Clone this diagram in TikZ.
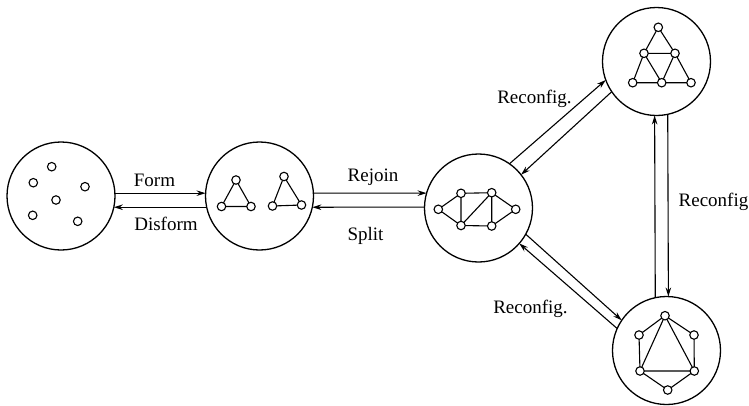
\documentclass[tikz,border=0pt]{standalone}
\usepackage{fontspec}
\setmainfont{Liberation Serif}
\usetikzlibrary{arrows.meta}
\begin{document}
\begin{tikzpicture}[x=1pt,y=-1pt,
  big/.style={circle,draw,line width=1.3pt,minimum size=108pt,inner sep=0pt,outer sep=0pt},
  sm/.style={circle,draw,line width=1.1pt,minimum size=8.5pt,inner sep=0pt,outer sep=0pt},
  link/.style={line width=1.1pt},
  conn/.style={line width=1.1pt,-{Stealth[length=9pt,width=5.5pt]}},
  lbl/.style={font=\fontsize{19}{22}\selectfont,anchor=base,inner sep=0pt}]
\useasboundingbox (0,0) rectangle (749,405);

% big circles
\node[big] (c1) at (61,196) {};
\node[big] (c2) at (259.5,196) {};
\node[big] (c3) at (478.5,208) {};
\node[big] (c4) at (656.5,61.5) {};
\node[big] (c5) at (666.5,350.5) {};

% state 1: isolated nodes
\node[sm] (a1) at (51.7,166.7) {};
\node[sm] (a2) at (33.3,182.7) {};
\node[sm] (a3) at (85,186.7) {};
\node[sm] (a4) at (56,200) {};
\node[sm] (a5) at (32.7,215.3) {};
\node[sm] (a6) at (77.7,221.3) {};

% state 2: two triangles
\node[sm] (b1) at (236,180) {};
\node[sm] (b2) at (221.5,206.5) {};
\node[sm] (b3) at (251,206.5) {};
\node[sm] (b4) at (284,176.5) {};
\node[sm] (b5) at (272.5,206) {};
\node[sm] (b6) at (301.5,205) {};
\draw[link] (b1)--(b2) (b1)--(b3) (b2)--(b3);
\draw[link] (b4)--(b5) (b4)--(b6) (b5)--(b6);

% state 3
\node[sm] (d1) at (438.3,209.3) {};
\node[sm] (d2) at (461,193.3) {};
\node[sm] (d3) at (461,225.5) {};
\node[sm] (d4) at (491.7,192.7) {};
\node[sm] (d5) at (491.7,226) {};
\node[sm] (d6) at (515.7,209.3) {};
\draw[link] (d1)--(d2) (d1)--(d3) (d2)--(d4) (d2)--(d3) (d3)--(d4)
  (d3)--(d5) (d4)--(d5) (d4)--(d6) (d5)--(d6);

% state 4
\node[sm] (e1) at (658.3,27.3) {};
\node[sm] (e2) at (644,53.3) {};
\node[sm] (e3) at (675,53.3) {};
\node[sm] (e4) at (632.7,82.7) {};
\node[sm] (e5) at (661.7,82.7) {};
\node[sm] (e6) at (691,82.7) {};
\draw[link] (e1)--(e2) (e1)--(e3) (e2)--(e3) (e2)--(e4) (e2)--(e5)
  (e3)--(e5) (e3)--(e6) (e4)--(e5) (e5)--(e6);

% state 5
\node[sm] (f1) at (665,315.7) {};
\node[sm] (f2) at (639,335) {};
\node[sm] (f3) at (694,335) {};
\node[sm] (f4) at (640,371) {};
\node[sm] (f5) at (694.3,371) {};
\node[sm] (f6) at (667.7,390) {};
\draw[link] (f1)--(f2) (f1)--(f3) (f2)--(f4) (f3)--(f5) (f4)--(f6)
  (f5)--(f6) (f1)--(f4) (f1)--(f5) (f4)--(f5);

% connectors
\draw[conn] (c1.3) -- (c2.177);
\draw[conn] (c2.192) -- (c1.348);
\draw[conn] (c2.3) -- (c3.164);
\draw[conn] (c3.179) -- (c2.348);
\draw[conn] (c3.55) -- (c4.200);
\draw[conn] (c4.214) -- (c3.38);
\draw[conn] (c3.331) -- (c5.146);
\draw[conn] (c5.156.5) -- (c3.319);
\draw[conn] (c5.102.3) -- (c4.268.4);
\draw[conn] (c4.282.3) -- (c5.88.4);

% labels
\node[lbl] (t1) at (154.5,186.7) {Form};
\node[lbl] (t2) at (166,230.7) {Disform};
\node[lbl] (t3) at (373,181.7) {Rejoin};
\node[lbl] (t4) at (365.5,240) {Split};
\node[lbl] (t5) at (534.5,103.3) {Reconfig.};
\node[lbl] (t6) at (530.5,313) {Reconfig.};
\node[lbl] (t7) at (713.5,206) {Reconfig};
\end{tikzpicture}
\end{document}
